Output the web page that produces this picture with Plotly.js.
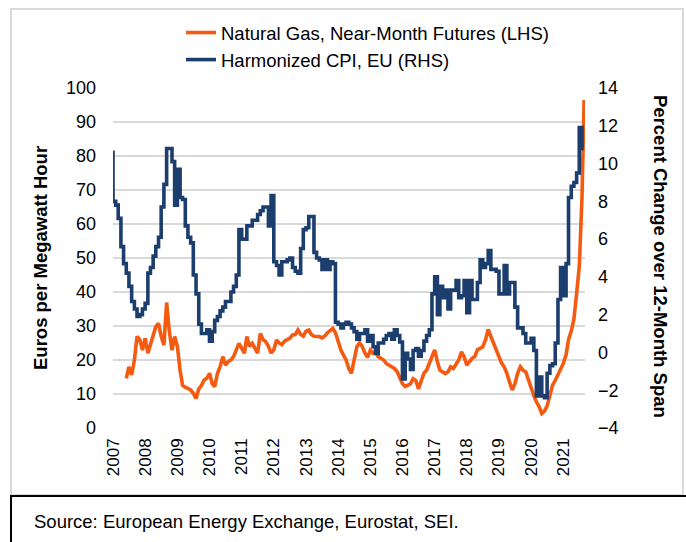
<!DOCTYPE html>
<html>
<head>
<meta charset="utf-8">
<script src="https://cdn.plot.ly/plotly-3.0.1.min.js"></script>
<style>
  html, body { margin: 0; padding: 0; background: #ffffff; }
  #chart { width: 686px; height: 542px; }
</style>
</head>
<body>
<div id="chart"></div>
<script>
// ---------------- DATA ----------------
// Natural gas near-month futures, EUR/MWh (left axis), monthly from Jun 2007
const gasStart = [2007, 6];
const gasValues = [
  14.6, 18.0, 15.6, 20.0, 26.9, 26.0, 22.9,                          // 2007 Jun-Dec
  26.4, 22.0, 24.5, 27.8, 29.8, 30.8, 27.0, 24.4, 36.9, 28.5, 22.9, 26.9, // 2008
  24.0, 17.0, 12.5, 12.0, 11.5, 11.2, 10.2, 8.7, 11.5, 12.5, 14.1, 14.6,  // 2009
  16.1, 13.0, 12.2, 16.0, 18.0, 21.0, 18.5, 19.5, 20.0, 21.0, 23.0, 24.9, // 2010
  23.5, 22.0, 26.9, 24.0, 24.9, 23.5, 22.0, 27.8, 26.0, 25.4, 24.0, 22.0, // 2011
  23.0, 25.9, 25.0, 24.5, 25.5, 26.0, 26.4, 27.4, 27.5, 28.8, 27.5, 27.0, // 2012
  28.5, 28.8, 27.5, 27.0, 26.9, 26.9, 26.5, 27.0, 28.0, 28.5, 29.3, 28.0, // 2013
  25.4, 22.9, 21.5, 20.0, 17.5, 16.1, 20.0, 23.9, 25.0, 24.0, 22.0, 20.8, // 2014
  22.9, 22.0, 22.4, 21.0, 20.5, 20.0, 19.0, 18.5, 18.0, 17.5, 16.6, 14.6, // 2015
  13.0, 12.2, 12.5, 13.0, 14.5, 14.0, 11.5, 13.5, 16.1, 17.0, 19.0, 21.0, // 2016
  23.0, 19.5, 17.0, 16.5, 16.0, 16.5, 18.0, 17.5, 19.0, 20.0, 22.4, 21.0, // 2017
  18.5, 19.5, 20.5, 21.0, 23.0, 23.4, 23.9, 25.9, 29.0, 26.9, 25.0, 23.0, // 2018
  21.0, 19.0, 18.0, 16.1, 13.5, 11.2, 13.0, 16.1, 18.0, 17.0, 16.5, 14.0, // 2019
  11.7, 9.5, 7.7, 6.3, 4.3, 5.0, 6.5, 10.0, 12.6, 14.0, 15.5, 17.1,       // 2020
  19.0, 21.5, 26.0, 28.5, 32.0, 39.6, 47.5, 68.0                          // 2021 Jan-Aug
];
// last readings of the spike (mid/late Aug 2021)
const gasTailDates = ['2021-08-16', '2021-08-25'];
const gasTailValues = [82.7, 96.5];

// Harmonized CPI, EU, % change over 12 months (right axis), monthly from Dec 2006
const cpiStart = [2006, 12];
const cpiValues = [
  10.6,                                                                    // 2006 Dec
  8.0, 7.8, 7.1, 5.6, 4.7, 4.2, 3.5, 2.7, 2.3, 1.9, 2.0, 2.3,              // 2007
  2.6, 4.2, 4.5, 5.1, 5.6, 6.1, 7.7, 8.9, 10.8, 10.8, 10.1, 7.8,           // 2008
  9.7, 8.2, 8.1, 6.7, 6.1, 5.8, 4.1, 3.1, 1.5, 1.0, 1.0, 1.2,              // 2009
  0.6, 1.1, 1.7, 1.9, 2.2, 2.4, 2.7, 2.7, 3.2, 3.5, 4.1, 6.5,              // 2010
  6.0, 6.0, 6.7, 6.7, 7.0, 7.0, 7.3, 7.5, 7.7, 7.7, 6.7, 8.3,              // 2011
  4.8, 4.6, 4.1, 4.8, 4.8, 4.9, 5.0, 4.5, 4.3, 4.2, 5.5, 6.5,              // 2012
  6.6, 7.2, 7.2, 5.3, 5.0, 4.9, 4.4, 4.9, 4.4, 4.8, 4.7, 1.6,              // 2013
  1.5, 1.3, 1.5, 1.6, 1.5, 1.3, 1.1, 0.7, 1.0, 1.0, 1.2, 0.6,              // 2014
  0.9, 0.3, -0.05, 0.5, 0.5, 0.7, 0.9, 1.0, 0.7, 1.2, 0.9, 0.55,           // 2015
  -1.4, -0.05, -0.35, -0.9, 0.1, 0.2, -0.2, 0.1, 0.6, 0.9, 1.2, 3.1,       // 2016
  4.0, 2.0, 3.5, 2.9, 3.3, 2.3, 3.3, 3.3, 3.8, 2.9, 3.0, 3.8,              // 2017
  2.1, 3.8, 2.8, 2.8, 3.7, 4.9, 4.5, 4.7, 5.4, 4.4, 4.4, 4.3,              // 2018
  3.1, 3.1, 4.6, 3.1, 3.7, 3.7, 2.4, 1.3, 1.3, 1.0, 0.5, 0.5,              // 2019
  0.75, 0.1, -2.3, -1.3, -2.3, -2.4, -1.1, -0.7, -0.6, 0.5, 2.8, 4.5,      // 2020
  3.0, 4.7, 8.2, 8.8, 9.0, 9.5, 11.9, 10.7                                 // 2021 Jan-Aug
];

const yearTicks = ['2007','2008','2009','2010','2011','2012','2013','2014',
                   '2015','2016','2017','2018','2019','2020','2021'];

const gasName = 'Natural Gas, Near-Month Futures (LHS)';
const cpiName = 'Harmonized CPI, EU (RHS)';
const sourceText = 'Source: European Energy Exchange, Eurostat, SEI.';
const leftTitle = 'Euros per Megawatt Hour';
const rightTitle = 'Percent Change over 12-Month Span';

// ---------------- helpers ----------------
function monthDates(start, n) {
  const out = [];
  let y = start[0], m = start[1];
  for (let i = 0; i < n; i++) {
    out.push(y + '-' + String(m).padStart(2, '0') + '-01');
    m++; if (m > 12) { m = 1; y++; }
  }
  return out;
}
const W = 686, H = 542;
const M = { l: 113, r: 101, t: 88, b: 114 };
const PW = W - M.l - M.r, PH = H - M.t - M.b;
const px = x => (x - M.l) / PW;
const py = y => (H - M.b - y) / PH;

const gasX = monthDates(gasStart, gasValues.length).concat(gasTailDates);
const gasY = gasValues.concat(gasTailValues);
const cpiX = monthDates(cpiStart, cpiValues.length);

const traces = [
  {
    x: gasX, y: gasY, name: gasName, type: 'scatter', mode: 'lines',
    line: { color: '#F45A10', width: 3.6 }, yaxis: 'y'
  },
  {
    x: cpiX, y: cpiValues, name: cpiName, type: 'scatter', mode: 'lines',
    line: { color: '#1B3E6F', width: 3.6, shape: 'hv' }, yaxis: 'y2'
  }
];

const fontFam = '"Liberation Sans", Arial, sans-serif';

const layout = {
  width: W, height: H,
  margin: M,
  paper_bgcolor: '#ffffff', plot_bgcolor: '#ffffff',
  font: { family: fontFam, size: 18, color: '#000000' },
  showlegend: true,
  legend: {
    x: px(181), y: py(14), xanchor: 'left', yanchor: 'top',
    orientation: 'v', bgcolor: 'rgba(0,0,0,0)',
    font: { family: fontFam, size: 18.5, color: '#000000' }
  },
  xaxis: {
    type: 'date',
    range: ['2007-01-01', '2021-09-04'],
    tickmode: 'array',
    tickvals: yearTicks.map(y => y + '-01-01'),
    ticktext: yearTicks,
    tickangle: -90,
    showgrid: false, zeroline: false, showline: false,
    ticks: '', ticklabelstandoff: 6,
    tickfont: { family: fontFam, size: 17, color: '#000000' },
    fixedrange: true
  },
  yaxis: {
    range: [0, 100], dtick: 10, tick0: 0,
    showgrid: true, gridcolor: '#D9D9D9', gridwidth: 1.5,
    zeroline: false, showline: false, ticks: '', ticklabelstandoff: 16,
    tickfont: { family: fontFam, size: 18, color: '#000000' }
  },
  yaxis2: {
    range: [-4, 14], dtick: 2, tick0: -4,
    overlaying: 'y', side: 'right',
    showgrid: false, zeroline: false, showline: false, ticks: '', ticklabelstandoff: 12,
    tickfont: { family: fontFam, size: 18, color: '#000000' }
  },
  shapes: [
    { type: 'rect', xref: 'paper', yref: 'paper', layer: 'below',
      x0: px(11), x1: px(683), y0: py(495), y1: py(9),
      line: { color: '#D9D9D9', width: 2 }, fillcolor: 'rgba(0,0,0,0)' },
    { type: 'rect', xref: 'paper', yref: 'paper', layer: 'above',
      x0: px(11), x1: px(700), y0: py(560), y1: py(496),
      line: { color: '#000000', width: 2 }, fillcolor: 'rgba(0,0,0,0)' }
  ],
  annotations: [
    { text: '<b>' + leftTitle + '</b>', xref: 'paper', yref: 'paper',
      x: px(40), y: py(258), xanchor: 'center', yanchor: 'middle',
      textangle: -90, showarrow: false,
      font: { family: fontFam, size: 18.5, color: '#000000' } },
    { text: '<b>' + rightTitle + '</b>', xref: 'paper', yref: 'paper',
      x: px(661), y: py(256), xanchor: 'center', yanchor: 'middle',
      textangle: 90, showarrow: false,
      font: { family: fontFam, size: 18.5, color: '#000000' } },
    { text: sourceText, xref: 'paper', yref: 'paper',
      x: px(32), y: py(521), xanchor: 'left', yanchor: 'middle',
      showarrow: false,
      font: { family: fontFam, size: 18.5, color: '#000000' } }
  ]
};

Plotly.newPlot('chart', traces, layout, { staticPlot: true, displayModeBar: false });
</script>
</body>
</html>
